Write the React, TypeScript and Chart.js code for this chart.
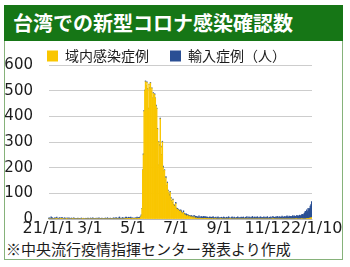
import React, { useEffect, useRef, useState } from "react";
import { Chart, registerables } from "chart.js";

Chart.register(...registerables);

const TITLE = "台湾での新型コロナ感染確認数";
const SOURCE = "※中央流行疫情指揮センター発表より作成";
const SERIES_NAMES = ["域内感染症例", "輸入症例（人）"];

// daily categories: 2021-01-01 .. 2022-01-10 (375 days)
const START_DATE = "2021-01-01";
const DAY_COUNT = 375;
const categories: string[] = Array.from({ length: DAY_COUNT }, (_, i) => {
  const d = new Date(START_DATE + "T00:00:00Z");
  d.setUTCDate(d.getUTCDate() + i);
  return `${d.getUTCFullYear()}/${d.getUTCMonth() + 1}/${d.getUTCDate()}`;
});

// x tick labels (category index -> text)
const tickIndices = [0, 59, 120, 181, 243, 304, 374];
const tickLabels = ["21/1/1", "3/1", "5/1", "7/1", "9/1", "11/1", "22/1/10"];

// y ticks
const yMin = 0;
const yMax = 600;
const yStep = 100;

// domestic cases per day
const domestic = [
  // 2021 Jan
  0, 0, 0, 0, 0, 0, 0, 0, 0, 0, 0, 1, 1, 0, 0, 0, 0, 1, 1, 0, 1, 0, 0, 0, 0, 0, 1, 0, 0, 0, 0,
  // Feb
  0, 0, 0, 0, 1, 0, 0, 0, 0, 0, 0, 0, 0, 0, 0, 0, 0, 0, 1, 0, 0, 0, 0, 0, 0, 0, 0, 0,
  // Mar
  0, 0, 0, 0, 0, 0, 0, 0, 0, 0, 0, 0, 0, 0, 0, 0, 0, 0, 0, 0, 0, 0, 0, 0, 0, 0, 0, 0, 0, 0, 0,
  // Apr
  0, 0, 0, 0, 0, 0, 0, 0, 0, 0, 0, 0, 0, 0, 0, 0, 0, 0, 0, 1, 0, 2, 1, 0, 1, 3, 1, 2, 0, 1,
  // May
  1, 0, 1, 0, 1, 0, 1, 2, 3, 1, 3, 7, 13, 40, 190, 250, 420, 500, 535, 520,
  532, 505, 430, 525, 510, 530, 495, 510, 470, 490, 480,
  // Jun
  485, 470, 440, 430, 350, 210, 300, 285, 390, 280, 250, 300, 200, 185, 190, 150, 160, 130, 140, 110,
  100, 90, 105, 80, 70, 60, 75, 55, 50, 45,
  // Jul
  60, 40, 38, 33, 36, 30, 28, 32, 25, 22, 20, 26, 17, 15, 16, 12, 10, 14, 9, 8,
  12, 7, 6, 9, 5, 4, 8, 4, 3, 5, 2,
  // Aug
  3, 2, 4, 1, 2, 3, 1, 2, 1, 2, 3, 1, 0, 1, 2, 0, 1, 0, 1, 0, 0, 1, 0, 0, 0, 1, 0, 0, 0, 0, 0,
  // Sep
  0, 0, 1, 0, 0, 0, 0, 0, 0, 0, 0, 0, 0, 0, 0, 1, 0, 0, 0, 0, 0, 0, 0, 0, 0, 0, 0, 0, 0, 0,
  // Oct
  0, 0, 0, 0, 0, 0, 0, 0, 0, 0, 0, 0, 0, 0, 0, 0, 0, 0, 0, 0, 0, 0, 0, 0, 0, 0, 0, 0, 0, 0, 0,
  // Nov
  0, 0, 0, 0, 0, 0, 0, 0, 0, 0, 0, 0, 0, 0, 0, 1, 0, 0, 0, 0, 0, 0, 0, 0, 0, 0, 0, 0, 0, 0,
  // Dec
  0, 0, 0, 0, 0, 0, 0, 0, 0, 0, 0, 0, 0, 0, 0, 0, 0, 0, 1, 0, 0, 0, 0, 0, 0, 0, 1, 0, 0, 0, 0,
  // 2022 Jan
  0, 0, 1, 1, 2, 3, 3, 5, 4, 6,
];

// imported cases per day
const imported = [
  // 2021 Jan
  3, 5, 4, 2, 8, 6, 4, 3, 2, 5, 4, 3, 6, 2, 3, 4, 5, 3, 2, 6, 4, 3, 2, 5, 3, 4, 2, 3, 5, 2, 4,
  // Feb
  3, 2, 4, 1, 2, 5, 3, 2, 1, 2, 3, 4, 2, 1, 3, 2, 4, 2, 1, 3, 2, 2, 3, 1, 2, 4, 3, 2,
  // Mar
  2, 4, 3, 2, 5, 3, 2, 1, 3, 2, 4, 2, 3, 5, 2, 1, 3, 4, 2, 3, 2, 1, 4, 2, 3, 5, 2, 3, 1, 4, 2,
  // Apr
  3, 2, 4, 5, 3, 2, 6, 4, 3, 2, 5, 8, 4, 3, 2, 6, 5, 3, 4, 2, 7, 5, 3, 4, 6, 3, 2, 5, 4, 3,
  // May
  4, 3, 2, 5, 3, 4, 6, 2, 3, 5, 4, 2, 3, 1, 2, 4, 3, 2, 3, 1, 2, 3, 2, 1, 3, 2, 4, 1, 2, 3, 2,
  // Jun
  3, 2, 4, 2, 3, 1, 2, 5, 3, 4, 2, 3, 6, 4, 2, 3, 5, 2, 4, 3, 2, 6, 3, 4, 2, 5, 3, 2, 4, 3,
  // Jul
  5, 3, 4, 6, 2, 3, 5, 4, 7, 3, 2, 6, 4, 5, 3, 8, 4, 3, 6, 5, 2, 4, 7, 3, 5, 4, 6, 3, 8, 5, 4,
  // Aug
  6, 4, 8, 5, 3, 7, 6, 4, 9, 5, 6, 8, 4, 7, 5, 6, 3, 8, 6, 4, 7, 5, 9, 6, 4, 5, 7, 3, 6, 8, 5,
  // Sep
  4, 6, 3, 7, 5, 4, 8, 6, 3, 5, 7, 4, 6, 9, 5, 4, 3, 6, 8, 5, 4, 7, 5, 3, 6, 4, 8, 5, 4, 6,
  // Oct
  5, 7, 4, 6, 8, 5, 3, 7, 6, 9, 4, 5, 8, 6, 4, 7, 5, 10, 6, 4, 8, 5, 7, 6, 9, 4, 6, 5, 8, 7, 5,
  // Nov
  6, 4, 8, 5, 7, 3, 6, 9, 5, 4, 7, 6, 8, 5, 4, 9, 6, 7, 5, 8, 6, 10, 7, 5, 9, 6, 8, 7, 11, 6,
  // Dec
  8, 7, 10, 6, 9, 12, 8, 7, 11, 9, 10, 8, 10, 13, 9, 12, 11, 10, 8, 14,
  12, 10, 13, 15, 12, 14, 16, 18, 15, 20, 24,
  // 2022 Jan
  30, 22, 35, 28, 40, 33, 38, 45, 52, 62,
];

const YELLOW = "#f9c600";
const BLUE = "#2a4f94";
const GREEN = "#167616";
const TEXT = "#1c1c1c";
const GRID = "#cdcdcd";
const TICK_FONT = '"DejaVu Sans", sans-serif';
const JP_FONT = '"Noto Sans CJK JP", sans-serif';

// shift legend so its first box starts at the plot's left edge
const legendShift = {
  id: "legendShift",
  afterLayout(chart: any) {
    if (chart.legend) {
      chart.legend.left = chart.chartArea.left - chart.options.plugins.legend.labels.padding - 1;
    }
  },
};

type GridLine = { top: number; left: number; width: number };

export default function App() {
  const ref = useRef<HTMLCanvasElement>(null);
  const [lines, setLines] = useState<GridLine[]>([]);

  useEffect(() => {
    const tickMap: Record<number, string> = {};
    tickIndices.forEach((idx, k) => (tickMap[idx] = tickLabels[k]));

    const chart = new Chart(ref.current!, {
      type: "bar",
      data: {
        labels: categories,
        datasets: [
          {
            label: SERIES_NAMES[0],
            data: domestic,
            backgroundColor: YELLOW,
            borderWidth: 0,
            barPercentage: 1,
            categoryPercentage: 1,
          },
          {
            label: SERIES_NAMES[1],
            data: imported,
            backgroundColor: BLUE,
            borderWidth: 0,
            barPercentage: 1,
            categoryPercentage: 1,
          },
        ],
      },
      options: {
        animation: false,
        responsive: false,
        maintainAspectRatio: false,
        layout: { padding: { top: 42, left: 4, right: 38, bottom: 28 } },
        plugins: {
          tooltip: { enabled: false },
          legend: {
            position: "top",
            align: "start",
            maxHeight: 23,
            labels: {
              boxWidth: 11,
              boxHeight: 11,
              padding: 7,
              color: TEXT,
              font: { family: JP_FONT, size: 14 },
              generateLabels: (c: any) => {
                const items = (Chart.defaults.plugins.legend.labels as any).generateLabels(c);
                items[0].text = items[0].text + "　";
                return items;
              },
            },
          },
        },
        scales: {
          x: {
            stacked: true,
            grid: { display: false, drawTicks: false },
            ticks: {
              autoSkip: false,
              maxRotation: 0,
              minRotation: 0,
              padding: 0,
              color: TEXT,
              font: { family: TICK_FONT, size: 16 },
              callback: (_v: any, i: number) => tickMap[i] ?? "",
            },
            afterFit: (s: any) => {
              s.height = 20;
            },
          },
          y: {
            stacked: true,
            min: yMin,
            max: yMax,
            grid: { color: GRID, drawTicks: false },
            border: { color: "rgba(0,0,0,0)" },
            ticks: {
              stepSize: yStep,
              padding: 15,
              color: TEXT,
              font: { family: TICK_FONT, size: 15 },
            },
            afterFit: (s: any) => {
              s.width = 44;
            },
          },
        },
      },
      plugins: [legendShift],
    } as any);

    // fallback: if the library grid did not reach the canvas, overlay the same
    // lines at the y scale's tick pixels
    const ys: any = chart.scales.y;
    const area = chart.chartArea;
    const probeY = Math.round(ys.getPixelForValue(300));
    const px = chart.ctx.getImageData(Math.round(area.right) - 20, probeY, 1, 1).data;
    if (px[3] < 20) {
      setLines(
        ys.ticks.map((t: any) => ({
          top: Math.round(ys.getPixelForValue(t.value)),
          left: area.left,
          width: area.right - area.left,
        }))
      );
    }
    return () => chart.destroy();
  }, []);

  return (
    <div
      style={{
        position: "absolute",
        left: 0,
        top: 0,
        width: 350,
        height: 267,
        background: "#fff",
        overflow: "hidden",
      }}
    >
      <div
        style={{
          position: "absolute",
          left: 4,
          top: 5,
          width: 339,
          height: 255,
          boxSizing: "border-box",
          border: "1.5px solid #86b27a",
        }}
      />
      <div
        style={{
          position: "absolute",
          left: 4,
          top: 5,
          width: 339,
          height: 36,
          background: GREEN,
          color: "#fff",
          fontFamily: JP_FONT,
          fontWeight: 700,
          fontSize: 20,
          lineHeight: "36px",
          paddingLeft: 9,
          boxSizing: "border-box",
          whiteSpace: "nowrap",
        }}
      >
        {TITLE}
      </div>
      <div
        style={{
          position: "absolute",
          left: 6,
          top: 240,
          fontFamily: JP_FONT,
          fontSize: 15,
          lineHeight: "18px",
          color: TEXT,
          whiteSpace: "nowrap",
        }}
      >
        {SOURCE}
      </div>
      <canvas
        ref={ref}
        width={350}
        height={267}
        style={{ position: "absolute", left: 0, top: 0, width: 350, height: 267, display: "block" }}
      />
      {lines.map((l, k) => (
        <div
          key={k}
          style={{ position: "absolute", left: l.left, top: l.top, width: l.width, height: 1, background: GRID, zIndex: 2 }}
        />
      ))}
    </div>
  );
}
